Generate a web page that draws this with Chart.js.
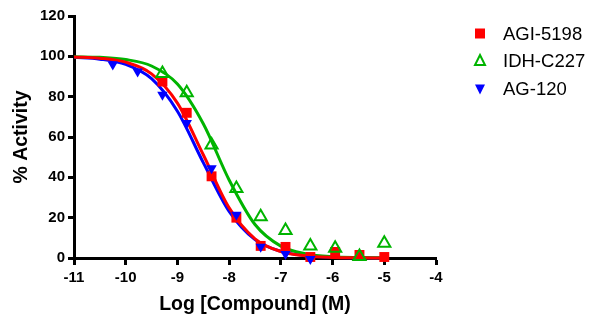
<html>
<head>
<title>Dose response</title>
<script src="https://cdn.jsdelivr.net/npm/chart.js@4.4.0/dist/chart.umd.min.js"></script>
<style>
  body { margin:0; background:#fff; }
  #wrap { width:600px; height:321px; }
</style>
</head>
<body>
<div id="wrap"><canvas id="chart" width="600" height="321"></canvas></div>
<script>
// compounds
var names = ["AGI-5198", "IDH-C227", "AG-120"];
var colors = ["#ff0000", "#00b400", "#0000ff"];

// measured points (log M, % activity)
var redX = [-9.29, -8.82, -8.34, -7.86, -7.39, -6.91, -6.43, -5.95, -5.48, -5.0];
var redY = [87.5, 72, 40.5, 20, 6, 5.5, 0.5, 3, 1.5, 0.5];
var greenX = [-9.29, -8.82, -8.34, -7.86, -7.39, -6.91, -6.43, -5.95, -5.48, -5.0];
var greenY = [91.5, 82, 56, 34.5, 20.4, 13.6, 6, 4.8, 0.7, 7.3];
var blueX = [-10.25, -9.77, -9.29, -8.82, -8.34, -7.86, -7.39, -6.91, -6.43];
var blueY = [96, 92.5, 81, 67, 44.5, 21.4, 5.6, 2, -0.5];

// fitted curves
var curveX = [-11, -10.5, -10, -9.5, -9, -8.5, -8, -7.5, -7, -6.5, -6, -5.5, -5];
var redCurve = [99.7, 99.1, 97.1, 91.3, 76.8, 51.2, 24.9, 9.5, 3.2, 1.0, 0.3, 0.1, 0];
var greenCurve = [99.8, 99.5, 98.4, 95.2, 86.3, 66.6, 38.7, 16.6, 5.9, 2.0, 0.6, 0.2, 0.1];
var blueCurve = [99.5, 98.6, 96.0, 88.9, 72.8, 47.3, 23.1, 9.1, 3.3, 1.1, 0.4, 0.1, 0];

var xTicks = [-11, -10, -9, -8, -7, -6, -5, -4];
var yTicks = [0, 20, 40, 60, 80, 100, 120];

function pts(xs, ys){
  var out = [];
  for (var i=0;i<xs.length;i++){ out.push({x:xs[i], y:ys[i]}); }
  return out;
}

function curveSet(ys, c){
  return {type:'line', data:pts(curveX, ys), borderColor:c, borderWidth:3,
    pointRadius:0, cubicInterpolationMode:'monotone', fill:false, order:10, clip:false};
}

// markers
function drawMarker(ctx, kind, x, y, c){
  ctx.save();
  ctx.fillStyle = c; ctx.strokeStyle = c; ctx.lineWidth = 2;
  ctx.beginPath();
  if (kind == 0){
    ctx.rect(x-5, y-5, 10, 10); ctx.fill();
  } else if (kind == 1){
    ctx.moveTo(x, y-6); ctx.lineTo(x+5, y+4); ctx.lineTo(x-5, y+4); ctx.closePath(); ctx.stroke();
  } else {
    ctx.moveTo(x-5, y-4); ctx.lineTo(x+5, y-4); ctx.lineTo(x, y+6); ctx.closePath(); ctx.fill();
  }
  ctx.restore();
}

var legendPlugin = {
  id:'sideLegend',
  afterDraw: function(chart){
    var ctx = chart.ctx;
    var rows = [33.5, 61, 88.5];
    for (var i=0;i<names.length;i++){
      drawMarker(ctx, i, 480, rows[i], colors[i]);
      ctx.save();
      ctx.fillStyle = '#000';
      ctx.font = '18.5px "Liberation Sans", Arial, sans-serif';
      ctx.textBaseline = 'middle';
      ctx.fillText(names[i], 503, rows[i]+1);
      ctx.restore();
    }
  }
};

var tickFont = {family:'"Liberation Sans", Arial, sans-serif', size:15, weight:'bold'};
var titleFont = {family:'"Liberation Sans", Arial, sans-serif', size:19.5, weight:'bold'};

new Chart(document.getElementById('chart'), {
  type:'scatter',
  data:{
    datasets:[
      curveSet(redCurve, colors[0]),
      curveSet(greenCurve, colors[1]),
      curveSet(blueCurve, colors[2]),
      {data:pts(redX, redY), pointStyle:'rect', pointRadius:7, backgroundColor:colors[0], borderWidth:0, order:3, clip:false},
      {data:pts(greenX, greenY), pointStyle:'triangle', pointRadius:7, backgroundColor:'rgba(0,0,0,0)', borderColor:colors[1], borderWidth:2, order:2, clip:false},
      {data:pts(blueX, blueY), pointStyle:'triangle', pointRotation:180, pointRadius:6, backgroundColor:colors[2], borderWidth:0, order:1, clip:false}
    ]
  },
  options:{
    responsive:false,
    animation:false,
    layout:{padding:{top:16, right:164, left:0, bottom:0}},
    plugins:{legend:{display:false}, tooltip:{enabled:false}},
    scales:{
      x:{
        type:'linear', min:-11, max:-4,
        afterBuildTicks: function(s){ s.ticks = xTicks.map(function(v){return {value:v};}); },
        afterFit: function(s){ s.height = 63; },
        ticks:{font:tickFont, color:'#000', padding:4, maxRotation:0},
        grid:{drawOnChartArea:false, tickLength:7, tickWidth:3, tickColor:'#000'},
        border:{width:3, color:'#000'},
        title:{display:true, text:'Log [Compound] (M)', font:titleFont, color:'#000', padding:{bottom:5}}
      },
      y:{
        min:0, max:120,
        afterBuildTicks: function(s){ s.ticks = yTicks.map(function(v){return {value:v};}); },
        afterFit: function(s){ s.width = 74; },
        ticks:{font:tickFont, color:'#000', padding:3},
        grid:{drawOnChartArea:false, tickLength:6, tickWidth:3, tickColor:'#000'},
        border:{width:3, color:'#000'},
        title:{display:true, text:'% Activity', font:titleFont, color:'#000', padding:{top:10}}
      }
    }
  },
  plugins:[legendPlugin]
});
</script>
</body>
</html>
